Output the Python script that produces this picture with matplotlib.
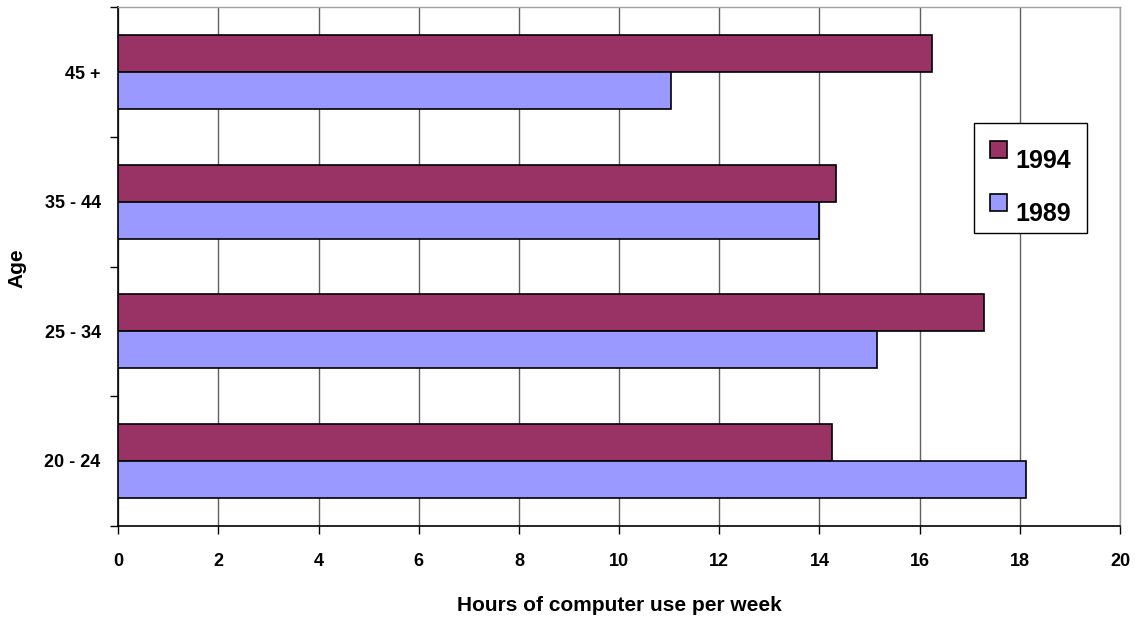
import matplotlib.pyplot as plt
import numpy as np

plt.rcParams['font.family'] = ['Liberation Sans', 'DejaVu Sans']
plt.rcParams['font.weight'] = 'bold'

ages = ['20 - 24', '25 - 34', '35 - 44', '45 +']
hours_1994 = [14.25, 17.28, 14.32, 16.25]
hours_1989 = [18.13, 15.14, 14.0, 11.03]

fig = plt.figure(figsize=(11.35, 6.2), dpi=100)
ax = fig.add_axes([0.1042, 0.1521, 0.8826, 0.8361])

y = np.arange(len(ages))
h = 0.286
ax.barh(y + h / 2, hours_1994, height=h, color='#993366', edgecolor='black',
        linewidth=1.2, label='1994', zorder=3)
ax.barh(y - h / 2, hours_1989, height=h, color='#9999FF', edgecolor='black',
        linewidth=1.2, label='1989', zorder=3)

ax.set_xlim(0, 20)
ax.set_ylim(-0.5, 3.5)
ax.set_xticks(np.arange(0, 21, 2))
ax.set_yticks(y)
ax.set_yticklabels(ages)
ax.set_yticks(np.arange(-0.5, 3.6, 1), minor=True)
ax.tick_params(axis='y', which='major', length=0, pad=12.7, labelsize=13)
ax.tick_params(axis='y', which='minor', length=6, width=1)
ax.tick_params(axis='x', length=6, width=1, pad=14, labelsize=13)

ax.grid(axis='x', color='#606060', linewidth=1, zorder=0)
ax.set_axisbelow(True)
for s in ['left', 'bottom']:
    ax.spines[s].set_color('black')
    ax.spines[s].set_linewidth(1.2)
for s in ['top', 'right']:
    ax.spines[s].set_color('#a0a0a0')
    ax.spines[s].set_linewidth(1)

ax.set_xlabel('Hours of computer use per week', fontsize=15, fontweight='bold')
ax.xaxis.set_label_coords(0.5, -0.136)
ax.set_ylabel('Age', fontsize=15, fontweight='bold')
ax.yaxis.set_label_coords(-0.092, 0.497)

leg = ax.legend(loc='upper left', bbox_to_anchor=(974 / 1135, 1 - 123 / 620),
                bbox_transform=fig.transFigure, borderaxespad=0,
                fancybox=False, framealpha=1, edgecolor='black',
                prop={'size': 18, 'weight': 'bold'},
                handlelength=0.68, handleheight=0.68, handletextpad=0.32,
                labelspacing=1.16, borderpad=0.65)
leg.get_frame().set_linewidth(1)
# text sits a little below the colour boxes, as in the original
for t in leg.get_texts():
    t.set_y(-10)

fig.savefig('out.png', dpi=100)
